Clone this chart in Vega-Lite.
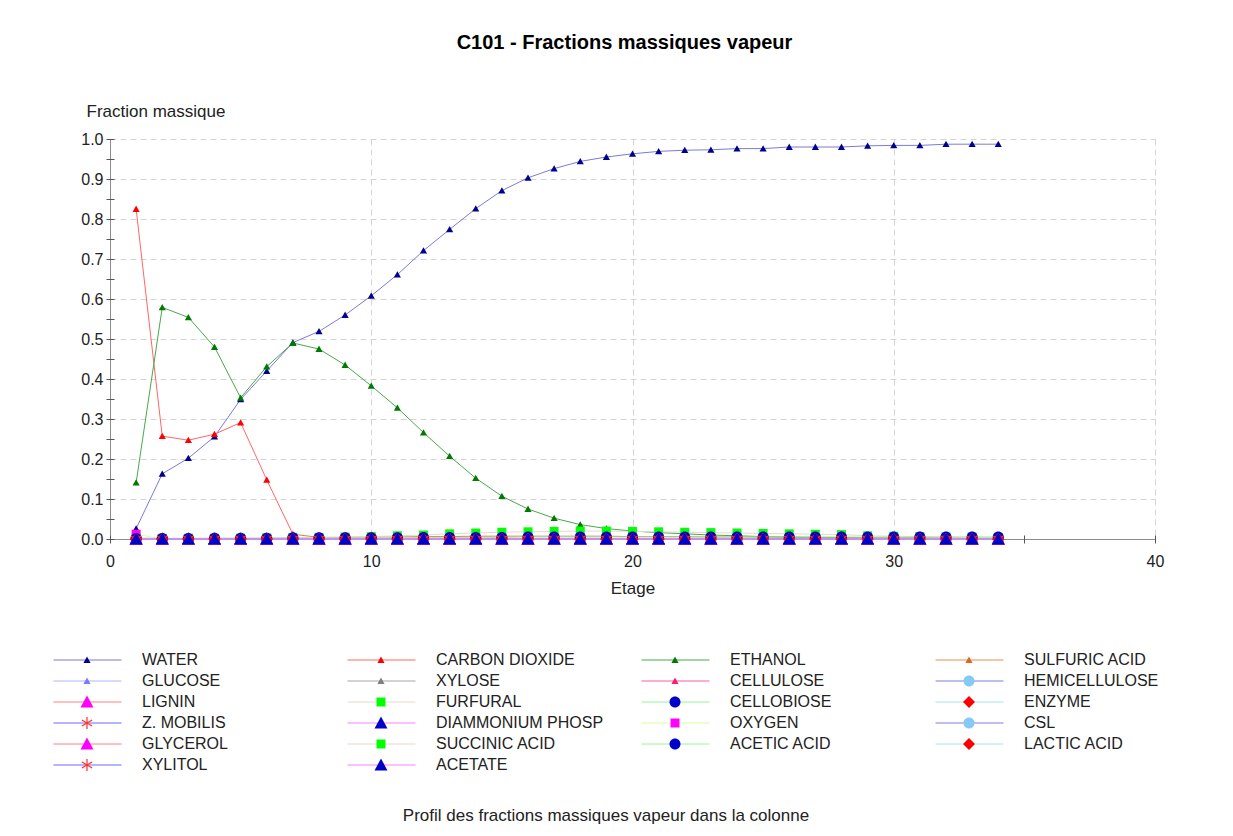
{
  "$schema": "https://vega.github.io/schema/vega-lite/v6.json",
  "width": 1045,
  "height": 400,
  "autosize": "none",
  "padding": {"left": 110, "top": 139, "right": 78, "bottom": 297},
  "background": "white",
  "title": {
    "text": "C101 - Fractions massiques vapeur",
    "fontSize": 20,
    "fontWeight": "bold",
    "color": "#000000",
    "anchor": "middle",
    "frame": "group",
    "dx": -8,
    "offset": 49
  },
  "data": {
    "values": [
      {"etage": 1, "WATER": 0.026, "CARBON DIOXIDE": 0.825, "ETHANOL": 0.141, "SULFURIC ACID": 0, "GLUCOSE": 0, "XYLOSE": 0, "CELLULOSE": 0, "HEMICELLULOSE": 0, "LIGNIN": 0, "FURFURAL": 0.003, "CELLOBIOSE": 0, "ENZYME": 0, "Z. MOBILIS": 0, "DIAMMONIUM PHOSP": 0, "OXYGEN": 0.012, "CSL": 0, "GLYCEROL": 0, "SUCCINIC ACID": 0, "ACETIC ACID": 0.001, "LACTIC ACID": 0, "XYLITOL": 0, "ACETATE": 0},
      {"etage": 2, "WATER": 0.163, "CARBON DIOXIDE": 0.257, "ETHANOL": 0.579, "SULFURIC ACID": 0, "GLUCOSE": 0, "XYLOSE": 0, "CELLULOSE": 0, "HEMICELLULOSE": 0, "LIGNIN": 0, "FURFURAL": 0.002, "CELLOBIOSE": 0, "ENZYME": 0, "Z. MOBILIS": 0, "DIAMMONIUM PHOSP": 0, "OXYGEN": 0, "CSL": 0, "GLYCEROL": 0, "SUCCINIC ACID": 0, "ACETIC ACID": 0.001, "LACTIC ACID": 0, "XYLITOL": 0, "ACETATE": 0},
      {"etage": 3, "WATER": 0.202, "CARBON DIOXIDE": 0.247, "ETHANOL": 0.554, "SULFURIC ACID": 0, "GLUCOSE": 0, "XYLOSE": 0, "CELLULOSE": 0, "HEMICELLULOSE": 0, "LIGNIN": 0, "FURFURAL": 0.002, "CELLOBIOSE": 0, "ENZYME": 0, "Z. MOBILIS": 0, "DIAMMONIUM PHOSP": 0, "OXYGEN": 0, "CSL": 0, "GLYCEROL": 0, "SUCCINIC ACID": 0, "ACETIC ACID": 0.001, "LACTIC ACID": 0, "XYLITOL": 0, "ACETATE": 0},
      {"etage": 4, "WATER": 0.256, "CARBON DIOXIDE": 0.262, "ETHANOL": 0.48, "SULFURIC ACID": 0, "GLUCOSE": 0, "XYLOSE": 0, "CELLULOSE": 0, "HEMICELLULOSE": 0, "LIGNIN": 0, "FURFURAL": 0.002, "CELLOBIOSE": 0, "ENZYME": 0, "Z. MOBILIS": 0, "DIAMMONIUM PHOSP": 0, "OXYGEN": 0, "CSL": 0, "GLYCEROL": 0, "SUCCINIC ACID": 0, "ACETIC ACID": 0.002, "LACTIC ACID": 0, "XYLITOL": 0, "ACETATE": 0},
      {"etage": 5, "WATER": 0.349, "CARBON DIOXIDE": 0.291, "ETHANOL": 0.353, "SULFURIC ACID": 0, "GLUCOSE": 0, "XYLOSE": 0, "CELLULOSE": 0, "HEMICELLULOSE": 0, "LIGNIN": 0, "FURFURAL": 0.002, "CELLOBIOSE": 0, "ENZYME": 0, "Z. MOBILIS": 0, "DIAMMONIUM PHOSP": 0, "OXYGEN": 0, "CSL": 0, "GLYCEROL": 0, "SUCCINIC ACID": 0, "ACETIC ACID": 0.002, "LACTIC ACID": 0, "XYLITOL": 0, "ACETATE": 0},
      {"etage": 6, "WATER": 0.42, "CARBON DIOXIDE": 0.148, "ETHANOL": 0.431, "SULFURIC ACID": 0, "GLUCOSE": 0, "XYLOSE": 0, "CELLULOSE": 0, "HEMICELLULOSE": 0, "LIGNIN": 0, "FURFURAL": 0.003, "CELLOBIOSE": 0, "ENZYME": 0, "Z. MOBILIS": 0, "DIAMMONIUM PHOSP": 0, "OXYGEN": 0, "CSL": 0, "GLYCEROL": 0, "SUCCINIC ACID": 0, "ACETIC ACID": 0.002, "LACTIC ACID": 0, "XYLITOL": 0, "ACETATE": 0},
      {"etage": 7, "WATER": 0.491, "CARBON DIOXIDE": 0.012, "ETHANOL": 0.49, "SULFURIC ACID": 0, "GLUCOSE": 0, "XYLOSE": 0, "CELLULOSE": 0, "HEMICELLULOSE": 0, "LIGNIN": 0, "FURFURAL": 0.004, "CELLOBIOSE": 0, "ENZYME": 0, "Z. MOBILIS": 0, "DIAMMONIUM PHOSP": 0, "OXYGEN": 0, "CSL": 0, "GLYCEROL": 0, "SUCCINIC ACID": 0, "ACETIC ACID": 0.003, "LACTIC ACID": 0, "XYLITOL": 0, "ACETATE": 0},
      {"etage": 8, "WATER": 0.519, "CARBON DIOXIDE": 0.004, "ETHANOL": 0.475, "SULFURIC ACID": 0, "GLUCOSE": 0, "XYLOSE": 0, "CELLULOSE": 0, "HEMICELLULOSE": 0, "LIGNIN": 0, "FURFURAL": 0.004, "CELLOBIOSE": 0, "ENZYME": 0, "Z. MOBILIS": 0, "DIAMMONIUM PHOSP": 0, "OXYGEN": 0, "CSL": 0, "GLYCEROL": 0, "SUCCINIC ACID": 0, "ACETIC ACID": 0.003, "LACTIC ACID": 0, "XYLITOL": 0, "ACETATE": 0},
      {"etage": 9, "WATER": 0.56, "CARBON DIOXIDE": 0.004, "ETHANOL": 0.435, "SULFURIC ACID": 0, "GLUCOSE": 0, "XYLOSE": 0, "CELLULOSE": 0, "HEMICELLULOSE": 0, "LIGNIN": 0, "FURFURAL": 0.005, "CELLOBIOSE": 0, "ENZYME": 0, "Z. MOBILIS": 0, "DIAMMONIUM PHOSP": 0, "OXYGEN": 0, "CSL": 0, "GLYCEROL": 0, "SUCCINIC ACID": 0, "ACETIC ACID": 0.003, "LACTIC ACID": 0, "XYLITOL": 0, "ACETATE": 0},
      {"etage": 10, "WATER": 0.608, "CARBON DIOXIDE": 0.005, "ETHANOL": 0.383, "SULFURIC ACID": 0, "GLUCOSE": 0, "XYLOSE": 0, "CELLULOSE": 0, "HEMICELLULOSE": 0, "LIGNIN": 0, "FURFURAL": 0.006, "CELLOBIOSE": 0, "ENZYME": 0, "Z. MOBILIS": 0, "DIAMMONIUM PHOSP": 0, "OXYGEN": 0, "CSL": 0, "GLYCEROL": 0, "SUCCINIC ACID": 0, "ACETIC ACID": 0.003, "LACTIC ACID": 0, "XYLITOL": 0, "ACETATE": 0},
      {"etage": 11, "WATER": 0.661, "CARBON DIOXIDE": 0.005, "ETHANOL": 0.328, "SULFURIC ACID": 0, "GLUCOSE": 0, "XYLOSE": 0, "CELLULOSE": 0, "HEMICELLULOSE": 0, "LIGNIN": 0, "FURFURAL": 0.008, "CELLOBIOSE": 0, "ENZYME": 0, "Z. MOBILIS": 0, "DIAMMONIUM PHOSP": 0, "OXYGEN": 0, "CSL": 0, "GLYCEROL": 0, "SUCCINIC ACID": 0, "ACETIC ACID": 0.003, "LACTIC ACID": 0, "XYLITOL": 0, "ACETATE": 0},
      {"etage": 12, "WATER": 0.721, "CARBON DIOXIDE": 0.006, "ETHANOL": 0.266, "SULFURIC ACID": 0, "GLUCOSE": 0, "XYLOSE": 0, "CELLULOSE": 0, "HEMICELLULOSE": 0, "LIGNIN": 0, "FURFURAL": 0.01, "CELLOBIOSE": 0, "ENZYME": 0, "Z. MOBILIS": 0, "DIAMMONIUM PHOSP": 0, "OXYGEN": 0, "CSL": 0, "GLYCEROL": 0, "SUCCINIC ACID": 0, "ACETIC ACID": 0.004, "LACTIC ACID": 0, "XYLITOL": 0, "ACETATE": 0},
      {"etage": 13, "WATER": 0.774, "CARBON DIOXIDE": 0.006, "ETHANOL": 0.207, "SULFURIC ACID": 0, "GLUCOSE": 0, "XYLOSE": 0, "CELLULOSE": 0, "HEMICELLULOSE": 0, "LIGNIN": 0, "FURFURAL": 0.013, "CELLOBIOSE": 0, "ENZYME": 0, "Z. MOBILIS": 0, "DIAMMONIUM PHOSP": 0, "OXYGEN": 0, "CSL": 0, "GLYCEROL": 0, "SUCCINIC ACID": 0, "ACETIC ACID": 0.004, "LACTIC ACID": 0, "XYLITOL": 0, "ACETATE": 0},
      {"etage": 14, "WATER": 0.826, "CARBON DIOXIDE": 0.007, "ETHANOL": 0.152, "SULFURIC ACID": 0, "GLUCOSE": 0, "XYLOSE": 0, "CELLULOSE": 0, "HEMICELLULOSE": 0, "LIGNIN": 0, "FURFURAL": 0.015, "CELLOBIOSE": 0, "ENZYME": 0, "Z. MOBILIS": 0, "DIAMMONIUM PHOSP": 0, "OXYGEN": 0, "CSL": 0, "GLYCEROL": 0, "SUCCINIC ACID": 0, "ACETIC ACID": 0.004, "LACTIC ACID": 0, "XYLITOL": 0, "ACETATE": 0},
      {"etage": 15, "WATER": 0.871, "CARBON DIOXIDE": 0.007, "ETHANOL": 0.107, "SULFURIC ACID": 0, "GLUCOSE": 0, "XYLOSE": 0, "CELLULOSE": 0, "HEMICELLULOSE": 0, "LIGNIN": 0, "FURFURAL": 0.017, "CELLOBIOSE": 0, "ENZYME": 0, "Z. MOBILIS": 0, "DIAMMONIUM PHOSP": 0, "OXYGEN": 0, "CSL": 0, "GLYCEROL": 0, "SUCCINIC ACID": 0, "ACETIC ACID": 0.004, "LACTIC ACID": 0, "XYLITOL": 0, "ACETATE": 0},
      {"etage": 16, "WATER": 0.903, "CARBON DIOXIDE": 0.007, "ETHANOL": 0.075, "SULFURIC ACID": 0, "GLUCOSE": 0, "XYLOSE": 0, "CELLULOSE": 0, "HEMICELLULOSE": 0, "LIGNIN": 0, "FURFURAL": 0.018, "CELLOBIOSE": 0, "ENZYME": 0, "Z. MOBILIS": 0, "DIAMMONIUM PHOSP": 0, "OXYGEN": 0, "CSL": 0, "GLYCEROL": 0, "SUCCINIC ACID": 0, "ACETIC ACID": 0.005, "LACTIC ACID": 0, "XYLITOL": 0, "ACETATE": 0},
      {"etage": 17, "WATER": 0.926, "CARBON DIOXIDE": 0.007, "ETHANOL": 0.052, "SULFURIC ACID": 0, "GLUCOSE": 0, "XYLOSE": 0, "CELLULOSE": 0, "HEMICELLULOSE": 0, "LIGNIN": 0, "FURFURAL": 0.019, "CELLOBIOSE": 0, "ENZYME": 0, "Z. MOBILIS": 0, "DIAMMONIUM PHOSP": 0, "OXYGEN": 0, "CSL": 0, "GLYCEROL": 0, "SUCCINIC ACID": 0, "ACETIC ACID": 0.005, "LACTIC ACID": 0, "XYLITOL": 0, "ACETATE": 0},
      {"etage": 18, "WATER": 0.944, "CARBON DIOXIDE": 0.007, "ETHANOL": 0.036, "SULFURIC ACID": 0, "GLUCOSE": 0, "XYLOSE": 0, "CELLULOSE": 0, "HEMICELLULOSE": 0, "LIGNIN": 0, "FURFURAL": 0.02, "CELLOBIOSE": 0, "ENZYME": 0, "Z. MOBILIS": 0, "DIAMMONIUM PHOSP": 0, "OXYGEN": 0, "CSL": 0, "GLYCEROL": 0, "SUCCINIC ACID": 0, "ACETIC ACID": 0.005, "LACTIC ACID": 0, "XYLITOL": 0, "ACETATE": 0},
      {"etage": 19, "WATER": 0.955, "CARBON DIOXIDE": 0.007, "ETHANOL": 0.026, "SULFURIC ACID": 0, "GLUCOSE": 0, "XYLOSE": 0, "CELLULOSE": 0, "HEMICELLULOSE": 0, "LIGNIN": 0, "FURFURAL": 0.02, "CELLOBIOSE": 0, "ENZYME": 0, "Z. MOBILIS": 0, "DIAMMONIUM PHOSP": 0, "OXYGEN": 0, "CSL": 0, "GLYCEROL": 0, "SUCCINIC ACID": 0, "ACETIC ACID": 0.005, "LACTIC ACID": 0, "XYLITOL": 0, "ACETATE": 0},
      {"etage": 20, "WATER": 0.963, "CARBON DIOXIDE": 0.006, "ETHANOL": 0.02, "SULFURIC ACID": 0, "GLUCOSE": 0, "XYLOSE": 0, "CELLULOSE": 0, "HEMICELLULOSE": 0, "LIGNIN": 0, "FURFURAL": 0.019, "CELLOBIOSE": 0, "ENZYME": 0, "Z. MOBILIS": 0, "DIAMMONIUM PHOSP": 0, "OXYGEN": 0, "CSL": 0, "GLYCEROL": 0, "SUCCINIC ACID": 0, "ACETIC ACID": 0.005, "LACTIC ACID": 0, "XYLITOL": 0, "ACETATE": 0},
      {"etage": 21, "WATER": 0.969, "CARBON DIOXIDE": 0.006, "ETHANOL": 0.016, "SULFURIC ACID": 0, "GLUCOSE": 0, "XYLOSE": 0, "CELLULOSE": 0, "HEMICELLULOSE": 0, "LIGNIN": 0, "FURFURAL": 0.018, "CELLOBIOSE": 0, "ENZYME": 0, "Z. MOBILIS": 0, "DIAMMONIUM PHOSP": 0, "OXYGEN": 0, "CSL": 0, "GLYCEROL": 0, "SUCCINIC ACID": 0, "ACETIC ACID": 0.005, "LACTIC ACID": 0, "XYLITOL": 0, "ACETATE": 0},
      {"etage": 22, "WATER": 0.972, "CARBON DIOXIDE": 0.006, "ETHANOL": 0.013, "SULFURIC ACID": 0, "GLUCOSE": 0, "XYLOSE": 0, "CELLULOSE": 0, "HEMICELLULOSE": 0, "LIGNIN": 0, "FURFURAL": 0.017, "CELLOBIOSE": 0, "ENZYME": 0, "Z. MOBILIS": 0, "DIAMMONIUM PHOSP": 0, "OXYGEN": 0, "CSL": 0, "GLYCEROL": 0, "SUCCINIC ACID": 0, "ACETIC ACID": 0.005, "LACTIC ACID": 0, "XYLITOL": 0, "ACETATE": 0},
      {"etage": 23, "WATER": 0.973, "CARBON DIOXIDE": 0.005, "ETHANOL": 0.01, "SULFURIC ACID": 0, "GLUCOSE": 0, "XYLOSE": 0, "CELLULOSE": 0, "HEMICELLULOSE": 0, "LIGNIN": 0, "FURFURAL": 0.016, "CELLOBIOSE": 0, "ENZYME": 0, "Z. MOBILIS": 0, "DIAMMONIUM PHOSP": 0, "OXYGEN": 0, "CSL": 0, "GLYCEROL": 0, "SUCCINIC ACID": 0, "ACETIC ACID": 0.005, "LACTIC ACID": 0, "XYLITOL": 0, "ACETATE": 0},
      {"etage": 24, "WATER": 0.976, "CARBON DIOXIDE": 0.005, "ETHANOL": 0.008, "SULFURIC ACID": 0, "GLUCOSE": 0, "XYLOSE": 0, "CELLULOSE": 0, "HEMICELLULOSE": 0, "LIGNIN": 0, "FURFURAL": 0.015, "CELLOBIOSE": 0, "ENZYME": 0, "Z. MOBILIS": 0, "DIAMMONIUM PHOSP": 0, "OXYGEN": 0, "CSL": 0, "GLYCEROL": 0, "SUCCINIC ACID": 0, "ACETIC ACID": 0.005, "LACTIC ACID": 0, "XYLITOL": 0, "ACETATE": 0},
      {"etage": 25, "WATER": 0.976, "CARBON DIOXIDE": 0.005, "ETHANOL": 0.006, "SULFURIC ACID": 0, "GLUCOSE": 0, "XYLOSE": 0, "CELLULOSE": 0, "HEMICELLULOSE": 0, "LIGNIN": 0, "FURFURAL": 0.014, "CELLOBIOSE": 0, "ENZYME": 0, "Z. MOBILIS": 0, "DIAMMONIUM PHOSP": 0, "OXYGEN": 0, "CSL": 0, "GLYCEROL": 0, "SUCCINIC ACID": 0, "ACETIC ACID": 0.005, "LACTIC ACID": 0, "XYLITOL": 0, "ACETATE": 0},
      {"etage": 26, "WATER": 0.98, "CARBON DIOXIDE": 0.004, "ETHANOL": 0.005, "SULFURIC ACID": 0, "GLUCOSE": 0, "XYLOSE": 0, "CELLULOSE": 0, "HEMICELLULOSE": 0, "LIGNIN": 0, "FURFURAL": 0.013, "CELLOBIOSE": 0, "ENZYME": 0, "Z. MOBILIS": 0, "DIAMMONIUM PHOSP": 0, "OXYGEN": 0, "CSL": 0, "GLYCEROL": 0, "SUCCINIC ACID": 0, "ACETIC ACID": 0.005, "LACTIC ACID": 0, "XYLITOL": 0, "ACETATE": 0},
      {"etage": 27, "WATER": 0.98, "CARBON DIOXIDE": 0.004, "ETHANOL": 0.004, "SULFURIC ACID": 0, "GLUCOSE": 0, "XYLOSE": 0, "CELLULOSE": 0, "HEMICELLULOSE": 0, "LIGNIN": 0, "FURFURAL": 0.012, "CELLOBIOSE": 0, "ENZYME": 0, "Z. MOBILIS": 0, "DIAMMONIUM PHOSP": 0, "OXYGEN": 0, "CSL": 0, "GLYCEROL": 0, "SUCCINIC ACID": 0, "ACETIC ACID": 0.005, "LACTIC ACID": 0, "XYLITOL": 0, "ACETATE": 0},
      {"etage": 28, "WATER": 0.98, "CARBON DIOXIDE": 0.004, "ETHANOL": 0.003, "SULFURIC ACID": 0, "GLUCOSE": 0, "XYLOSE": 0, "CELLULOSE": 0, "HEMICELLULOSE": 0, "LIGNIN": 0, "FURFURAL": 0.011, "CELLOBIOSE": 0, "ENZYME": 0, "Z. MOBILIS": 0, "DIAMMONIUM PHOSP": 0, "OXYGEN": 0, "CSL": 0, "GLYCEROL": 0, "SUCCINIC ACID": 0, "ACETIC ACID": 0.005, "LACTIC ACID": 0, "XYLITOL": 0, "ACETATE": 0},
      {"etage": 29, "WATER": 0.983, "CARBON DIOXIDE": 0.003, "ETHANOL": 0.002, "SULFURIC ACID": 0, "GLUCOSE": 0, "XYLOSE": 0, "CELLULOSE": 0, "HEMICELLULOSE": 0, "LIGNIN": 0, "FURFURAL": 0.008, "CELLOBIOSE": 0, "ENZYME": 0, "Z. MOBILIS": 0, "DIAMMONIUM PHOSP": 0, "OXYGEN": 0, "CSL": 0, "GLYCEROL": 0, "SUCCINIC ACID": 0, "ACETIC ACID": 0.005, "LACTIC ACID": 0, "XYLITOL": 0, "ACETATE": 0},
      {"etage": 30, "WATER": 0.984, "CARBON DIOXIDE": 0.003, "ETHANOL": 0.002, "SULFURIC ACID": 0, "GLUCOSE": 0, "XYLOSE": 0, "CELLULOSE": 0, "HEMICELLULOSE": 0, "LIGNIN": 0, "FURFURAL": 0.007, "CELLOBIOSE": 0, "ENZYME": 0, "Z. MOBILIS": 0, "DIAMMONIUM PHOSP": 0, "OXYGEN": 0, "CSL": 0, "GLYCEROL": 0, "SUCCINIC ACID": 0, "ACETIC ACID": 0.005, "LACTIC ACID": 0, "XYLITOL": 0, "ACETATE": 0},
      {"etage": 31, "WATER": 0.984, "CARBON DIOXIDE": 0.003, "ETHANOL": 0.002, "SULFURIC ACID": 0, "GLUCOSE": 0, "XYLOSE": 0, "CELLULOSE": 0, "HEMICELLULOSE": 0, "LIGNIN": 0, "FURFURAL": 0.006, "CELLOBIOSE": 0, "ENZYME": 0, "Z. MOBILIS": 0, "DIAMMONIUM PHOSP": 0, "OXYGEN": 0, "CSL": 0, "GLYCEROL": 0, "SUCCINIC ACID": 0, "ACETIC ACID": 0.005, "LACTIC ACID": 0, "XYLITOL": 0, "ACETATE": 0},
      {"etage": 32, "WATER": 0.987, "CARBON DIOXIDE": 0.003, "ETHANOL": 0.001, "SULFURIC ACID": 0, "GLUCOSE": 0, "XYLOSE": 0, "CELLULOSE": 0, "HEMICELLULOSE": 0, "LIGNIN": 0, "FURFURAL": 0.005, "CELLOBIOSE": 0, "ENZYME": 0, "Z. MOBILIS": 0, "DIAMMONIUM PHOSP": 0, "OXYGEN": 0, "CSL": 0, "GLYCEROL": 0, "SUCCINIC ACID": 0, "ACETIC ACID": 0.005, "LACTIC ACID": 0, "XYLITOL": 0, "ACETATE": 0},
      {"etage": 33, "WATER": 0.987, "CARBON DIOXIDE": 0.002, "ETHANOL": 0.001, "SULFURIC ACID": 0, "GLUCOSE": 0, "XYLOSE": 0, "CELLULOSE": 0, "HEMICELLULOSE": 0, "LIGNIN": 0, "FURFURAL": 0.005, "CELLOBIOSE": 0, "ENZYME": 0, "Z. MOBILIS": 0, "DIAMMONIUM PHOSP": 0, "OXYGEN": 0, "CSL": 0, "GLYCEROL": 0, "SUCCINIC ACID": 0, "ACETIC ACID": 0.005, "LACTIC ACID": 0, "XYLITOL": 0, "ACETATE": 0},
      {"etage": 34, "WATER": 0.987, "CARBON DIOXIDE": 0.002, "ETHANOL": 0.001, "SULFURIC ACID": 0, "GLUCOSE": 0, "XYLOSE": 0, "CELLULOSE": 0, "HEMICELLULOSE": 0, "LIGNIN": 0, "FURFURAL": 0.004, "CELLOBIOSE": 0, "ENZYME": 0, "Z. MOBILIS": 0, "DIAMMONIUM PHOSP": 0, "OXYGEN": 0, "CSL": 0, "GLYCEROL": 0, "SUCCINIC ACID": 0, "ACETIC ACID": 0.005, "LACTIC ACID": 0, "XYLITOL": 0, "ACETATE": 0}
    ]
  },
  "transform": [
    {
      "fold": ["WATER", "CARBON DIOXIDE", "ETHANOL", "SULFURIC ACID", "GLUCOSE", "XYLOSE", "CELLULOSE", "HEMICELLULOSE", "LIGNIN", "FURFURAL", "CELLOBIOSE", "ENZYME", "Z\\. MOBILIS", "DIAMMONIUM PHOSP", "OXYGEN", "CSL", "GLYCEROL", "SUCCINIC ACID", "ACETIC ACID", "LACTIC ACID", "XYLITOL", "ACETATE"],
      "as": ["composant", "fraction"]
    }
  ],
  "encoding": {
    "x": {
      "field": "etage",
      "type": "quantitative",
      "scale": {"domain": [0, 40], "nice": false, "zero": false},
      "axis": {
        "title": "Etage",
        "values": [0, 5, 10, 15, 20, 25, 30, 35, 40],
        "offset": -4,
        "tickSize": 8,
        "tickColor": "#555555",
        "domain": false,
        "labelExpr": "datum.value % 10 === 0 ? datum.label : ''",
        "labelFontSize": 16,
        "labelColor": "#222222",
        "labelPadding": 10,
        "labelFlush": false,
        "labelOverlap": false,
        "titleFontSize": 17,
        "titleFontWeight": "normal",
        "titleColor": "#222222",
        "titlePadding": 11,
        "grid": true,
        "gridWidth": 1,
        "gridColor": {"condition": {"test": "datum.value === 0", "value": "#8c8c8c"}, "value": "#d4d4d4"},
        "gridDash": {"condition": {"test": "datum.value === 0", "value": []}, "value": [6, 4]},
        "gridOpacity": {"condition": {"test": "datum.value % 10 !== 0", "value": 0}, "value": 1}
      }
    },
    "y": {
      "field": "fraction",
      "type": "quantitative",
      "scale": {"domain": [0, 1], "nice": false},
      "axis": {
        "title": "Fraction massique",
        "values": [0, 0.05, 0.1, 0.15, 0.2, 0.25, 0.3, 0.35, 0.4, 0.45, 0.5, 0.55, 0.6, 0.65, 0.7, 0.75, 0.8, 0.85, 0.9, 0.95, 1],
        "offset": -4,
        "tickSize": 8,
        "tickColor": "#555555",
        "domain": false,
        "labelExpr": "round(datum.value * 100) % 10 === 0 ? format(datum.value, '.1f') : ''",
        "labelFontSize": 16,
        "labelColor": "#222222",
        "labelPadding": 3,
        "labelOverlap": false,
        "titleAngle": 0,
        "titleAlign": "left",
        "titleBaseline": "middle",
        "titleX": -28,
        "titleY": -28,
        "titleFontSize": 17,
        "titleFontWeight": "normal",
        "titleColor": "#222222",
        "grid": true,
        "gridWidth": 1,
        "gridColor": {"condition": {"test": "datum.value === 0", "value": "#8c8c8c"}, "value": "#d4d4d4"},
        "gridDash": {"condition": {"test": "datum.value === 0", "value": []}, "value": [6, 4]},
        "gridOpacity": {"condition": {"test": "round(datum.value * 100) % 10 !== 0", "value": 0}, "value": 1}
      }
    }
  },
  "layer": [
    {
      "mark": {"type": "line", "strokeWidth": 1, "clip": false},
      "encoding": {
        "stroke": {
          "field": "composant",
          "type": "nominal",
          "sort": ["WATER", "CARBON DIOXIDE", "ETHANOL", "SULFURIC ACID", "GLUCOSE", "XYLOSE", "CELLULOSE", "HEMICELLULOSE", "LIGNIN", "FURFURAL", "CELLOBIOSE", "ENZYME", "Z. MOBILIS", "DIAMMONIUM PHOSP", "OXYGEN", "CSL", "GLYCEROL", "SUCCINIC ACID", "ACETIC ACID", "LACTIC ACID", "XYLITOL", "ACETATE"],
          "scale": {
            "range": ["#7b7bd9", "#ff6666", "#4aa84a", "#e8904c", "#b4b4ff", "#a6a6a6", "#ff5c9d", "#7c7ce0", "#ff8080", "#e3dacb", "#96f596", "#a6e6e6", "#6b6bff", "#ff80ff", "#d6ffa3", "#7c7ce0", "#ff8080", "#e3dacb", "#96f596", "#a6e6e6", "#6b6bff", "#ff80ff"]
          },
          "legend": {
            "orient": "none",
            "legendX": -57,
            "legendY": 511,
            "direction": "horizontal",
            "columns": 4,
            "gridAlign": "all",
            "symbolType": "stroke",
            "symbolSize": 4624,
            "symbolStrokeWidth": 1,
            "labelFontSize": 16,
            "labelColor": "#222222",
            "labelOffset": 20,
            "labelLimit": 0,
            "labelExpr": "datum.label === 'HEMICELLULOSE' ? datum.label + '       ' : datum.label",
            "columnPadding": 37,
            "rowPadding": 1,
            "clipHeight": 20,
            "padding": 0,
            "zindex": 0,
            "title": "Profil des fractions massiques vapeur dans la colonne",
            "titleOrient": "bottom",
            "titleAnchor": "middle",
            "titleFontSize": 17,
            "titleFontWeight": "normal",
            "titleColor": "#222222",
            "titlePadding": 33,
            "titleLimit": 0
          }
        }
      }
    },
    {
      "mark": {"type": "point", "filled": true, "size": 4624, "opacity": 1, "strokeWidth": 0, "clip": false},
      "encoding": {
        "shape": {
          "field": "composant",
          "type": "nominal",
          "scale": {
            "domain": ["WATER", "CARBON DIOXIDE", "ETHANOL", "SULFURIC ACID", "GLUCOSE", "XYLOSE", "CELLULOSE", "HEMICELLULOSE", "LIGNIN", "FURFURAL", "CELLOBIOSE", "ENZYME", "Z. MOBILIS", "DIAMMONIUM PHOSP", "OXYGEN", "CSL", "GLYCEROL", "SUCCINIC ACID", "ACETIC ACID", "LACTIC ACID", "XYLITOL", "ACETATE"],
            "range": [
              "M0,-0.1L0.105,0.085L-0.105,0.085Z",
              "M0,-0.1L0.105,0.085L-0.105,0.085Z",
              "M0,-0.1L0.105,0.085L-0.105,0.085Z",
              "M0,-0.1L0.105,0.085L-0.105,0.085Z",
              "M0,-0.1L0.105,0.085L-0.105,0.085Z",
              "M0,-0.1L0.105,0.085L-0.105,0.085Z",
              "M0,-0.1L0.105,0.085L-0.105,0.085Z",
              "M0.162,0A0.162,0.162,0,1,1,-0.162,0A0.162,0.162,0,1,1,0.162,0Z",
              "M0,-0.19L0.19,0.16L-0.19,0.16Z",
              "M-0.132,-0.132L0.132,-0.132L0.132,0.132L-0.132,0.132Z",
              "M0.162,0A0.162,0.162,0,1,1,-0.162,0A0.162,0.162,0,1,1,0.162,0Z",
              "M0,-0.176L0.176,0L0,0.176L-0.176,0Z",
              "M-0.018,-0.176L0.018,-0.176L0.018,0.176L-0.018,0.176ZM-0.161,-0.072L-0.143,-0.104L0.161,0.072L0.143,0.104ZM-0.143,0.104L-0.161,0.072L0.143,-0.104L0.161,-0.072Z",
              "M0,-0.19L0.19,0.16L-0.19,0.16Z",
              "M-0.132,-0.132L0.132,-0.132L0.132,0.132L-0.132,0.132Z",
              "M0.162,0A0.162,0.162,0,1,1,-0.162,0A0.162,0.162,0,1,1,0.162,0Z",
              "M0,-0.19L0.19,0.16L-0.19,0.16Z",
              "M-0.132,-0.132L0.132,-0.132L0.132,0.132L-0.132,0.132Z",
              "M0.162,0A0.162,0.162,0,1,1,-0.162,0A0.162,0.162,0,1,1,0.162,0Z",
              "M0,-0.176L0.176,0L0,0.176L-0.176,0Z",
              "M-0.018,-0.176L0.018,-0.176L0.018,0.176L-0.018,0.176ZM-0.161,-0.072L-0.143,-0.104L0.161,0.072L0.143,0.104ZM-0.143,0.104L-0.161,0.072L0.143,-0.104L0.161,-0.072Z",
              "M0,-0.19L0.19,0.16L-0.19,0.16Z"
            ]
          },
          "legend": {
            "orient": "none",
            "legendX": -57,
            "legendY": 511,
            "direction": "horizontal",
            "columns": 4,
            "gridAlign": "all",
            "symbolSize": 4624,
            "symbolStrokeWidth": 0,
            "symbolOpacity": 1,
            "labelFontSize": 16,
            "labelOffset": 20,
            "labelLimit": 0,
            "labelExpr": "''",
            "columnPadding": 206,
            "rowPadding": 1,
            "clipHeight": 20,
            "padding": 0,
            "zindex": 1,
            "title": null
          }
        },
        "fill": {
          "field": "composant",
          "type": "nominal",
          "scale": {
            "domain": ["WATER", "CARBON DIOXIDE", "ETHANOL", "SULFURIC ACID", "GLUCOSE", "XYLOSE", "CELLULOSE", "HEMICELLULOSE", "LIGNIN", "FURFURAL", "CELLOBIOSE", "ENZYME", "Z. MOBILIS", "DIAMMONIUM PHOSP", "OXYGEN", "CSL", "GLYCEROL", "SUCCINIC ACID", "ACETIC ACID", "LACTIC ACID", "XYLITOL", "ACETATE"],
            "range": ["#00008f", "#ff0000", "#007a00", "#d86a1e", "#7a7aff", "#7f7f7f", "#ff1a75", "#85c9f5", "#ff00ff", "#00ff00", "#0000c8", "#ff0000", "#ff3030", "#0000c8", "#ff00ff", "#85c9f5", "#ff00ff", "#00ff00", "#0000c8", "#ff0000", "#ff3030", "#0000c8"]
          },
          "legend": {
            "orient": "none",
            "legendX": -57,
            "legendY": 511,
            "direction": "horizontal",
            "columns": 4,
            "gridAlign": "all",
            "symbolSize": 4624,
            "symbolStrokeWidth": 0,
            "symbolOpacity": 1,
            "labelFontSize": 16,
            "labelOffset": 20,
            "labelLimit": 0,
            "labelExpr": "''",
            "columnPadding": 206,
            "rowPadding": 1,
            "clipHeight": 20,
            "padding": 0,
            "zindex": 1,
            "title": null
          }
        }
      }
    }
  ],
  "config": {
    "font": "Liberation Sans",
    "view": {"stroke": null}
  }
}
